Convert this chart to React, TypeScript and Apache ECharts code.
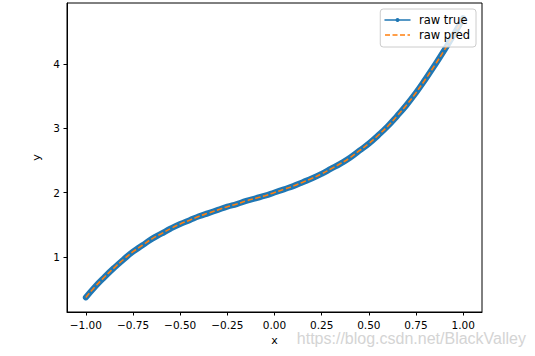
import React, { useEffect, useRef } from "react";
import * as echarts from "echarts";

const xValues = [
  -1.0, -0.95, -0.9, -0.85, -0.8, -0.75, -0.7, -0.65, -0.6, -0.55, -0.5,
  -0.45, -0.4, -0.35, -0.3, -0.25, -0.2, -0.15, -0.1, -0.05, 0.0,
  0.05, 0.1, 0.15, 0.2, 0.25, 0.3, 0.35, 0.4, 0.45, 0.5,
  0.55, 0.6, 0.65, 0.7, 0.75, 0.8, 0.85, 0.9, 0.95, 1.0,
];
const rawTrue = [
  0.37, 0.54, 0.69, 0.83, 0.96, 1.08, 1.18, 1.28, 1.36, 1.44, 1.51,
  1.57, 1.63, 1.68, 1.73, 1.78, 1.82, 1.87, 1.91, 1.95, 2.0,
  2.05, 2.1, 2.16, 2.22, 2.29, 2.37, 2.45, 2.54, 2.65, 2.76,
  2.89, 3.03, 3.19, 3.36, 3.55, 3.76, 3.98, 4.21, 4.45, 4.71,
];
const rawPred = [
  0.37, 0.54, 0.69, 0.83, 0.96, 1.08, 1.18, 1.28, 1.36, 1.44, 1.51,
  1.57, 1.63, 1.68, 1.73, 1.78, 1.82, 1.87, 1.91, 1.95, 2.0,
  2.05, 2.1, 2.16, 2.22, 2.29, 2.37, 2.45, 2.54, 2.65, 2.76,
  2.89, 3.03, 3.19, 3.36, 3.55, 3.76, 3.98, 4.21, 4.45, 4.71,
];
const xTicks = [-1.0, -0.75, -0.5, -0.25, 0.0, 0.25, 0.5, 0.75, 1.0];
const yTicks = [1, 2, 3, 4];
const seriesNames = ["raw true", "raw pred"];

const FONT = "DejaVu Sans";

export default function App() {
  const ref = useRef<HTMLDivElement>(null);
  useEffect(() => {
    if (!ref.current) return;
    const chart = echarts.init(ref.current, undefined, { renderer: "svg" });
    const fmtX = (v: number) =>
      (v < 0 ? "\u2212" : "") + Math.abs(v).toFixed(2);
    chart.setOption({
      animation: false,
      backgroundColor: "#fff",
      grid: {
        left: 67,
        right: 53,
        top: 3,
        bottom: 44,
        show: true,
        borderColor: "#000",
        borderWidth: 1,
        backgroundColor: "transparent",
      },
      xAxis: {
        type: "value",
        min: -1.1,
        max: 1.1,
        name: "x",
        nameLocation: "middle",
        nameGap: 16,
        nameTextStyle: { color: "#000", fontFamily: FONT, fontSize: 11 },
        axisLine: { show: true, onZero: false, lineStyle: { color: "#000", width: 1 } },
        axisTick: {
          show: true,
          inside: false,
          length: 3.5,
          customValues: xTicks,
          lineStyle: { color: "#000", width: 1 },
        },
        axisLabel: {
          customValues: xTicks,
          formatter: fmtX,
          color: "#000",
          fontFamily: FONT,
          fontSize: 10.5,
          margin: 7,
        },
        splitLine: { show: false },
      },
      yAxis: {
        type: "value",
        min: 0.143,
        max: 4.945,
        name: "y",
        nameLocation: "middle",
        nameGap: 14,
        nameRotate: 90,
        nameTextStyle: { color: "#000", fontFamily: FONT, fontSize: 11 },
        axisLine: { show: true, onZero: false, lineStyle: { color: "#000", width: 1 } },
        axisTick: {
          show: true,
          inside: false,
          length: 3.5,
          customValues: yTicks,
          lineStyle: { color: "#000", width: 1 },
        },
        axisLabel: {
          customValues: yTicks,
          formatter: (v: number) => String(v),
          color: "#000",
          fontFamily: FONT,
          fontSize: 10.5,
          margin: 7,
        },
        splitLine: { show: false },
      },
      legend: {
        orient: "vertical",
        right: 59,
        top: 9,
        padding: [5, 6, 6, 4],
        itemWidth: 25,
        itemHeight: 5,
        itemGap: 3,
        backgroundColor: "rgba(255,255,255,0.8)",
        borderColor: "#cccccc",
        borderWidth: 1,
        borderRadius: 3,
        textStyle: {
          color: "#000",
          fontFamily: FONT,
          fontSize: 11.5,
          padding: [0, 0, 0, 4],
        },
        data: [
          {
            name: seriesNames[0],
            itemStyle: { color: "#1f77b4" },
            lineStyle: { width: 1.5, color: "#1f77b4" },
          },
          {
            name: seriesNames[1],
            itemStyle: { color: "#ff7f0e", opacity: 0 },
            lineStyle: { width: 1.5, color: "#ff7f0e", type: [5, 2.5] },
          },
        ],
      },
      series: [
        {
          name: seriesNames[0],
          type: "line",
          data: xValues.map((x, i) => [x, rawTrue[i]]),
          smooth: true,
          symbol: "circle",
          symbolSize: 4,
          showSymbol: false,
          itemStyle: { color: "#1f77b4" },
          lineStyle: { color: "#1f77b4", width: 6, cap: "round", join: "round" },
          z: 2,
        },
        {
          name: seriesNames[1],
          type: "line",
          data: xValues.map((x, i) => [x, rawPred[i]]),
          smooth: true,
          symbol: "none",
          showSymbol: false,
          itemStyle: { color: "#ff7f0e" },
          lineStyle: { color: "#ff7f0e", width: 1.6, type: [5.5, 2.5] },
          z: 3,
        },
      ],
      graphic: [
        {
          type: "text",
          right: 9,
          top: 330,
          style: {
            text: "https://blog.csdn.net/BlackValley",
            fill: "#d4d4d4",
            font: '16px "Liberation Sans", Arial, sans-serif',
          },
          z: 10,
        },
      ],
    });
    return () => chart.dispose();
  }, []);
  return (
    <div
      ref={ref}
      style={{ position: "fixed", left: 0, top: 0, width: 535, height: 356 }}
    />
  );
}
